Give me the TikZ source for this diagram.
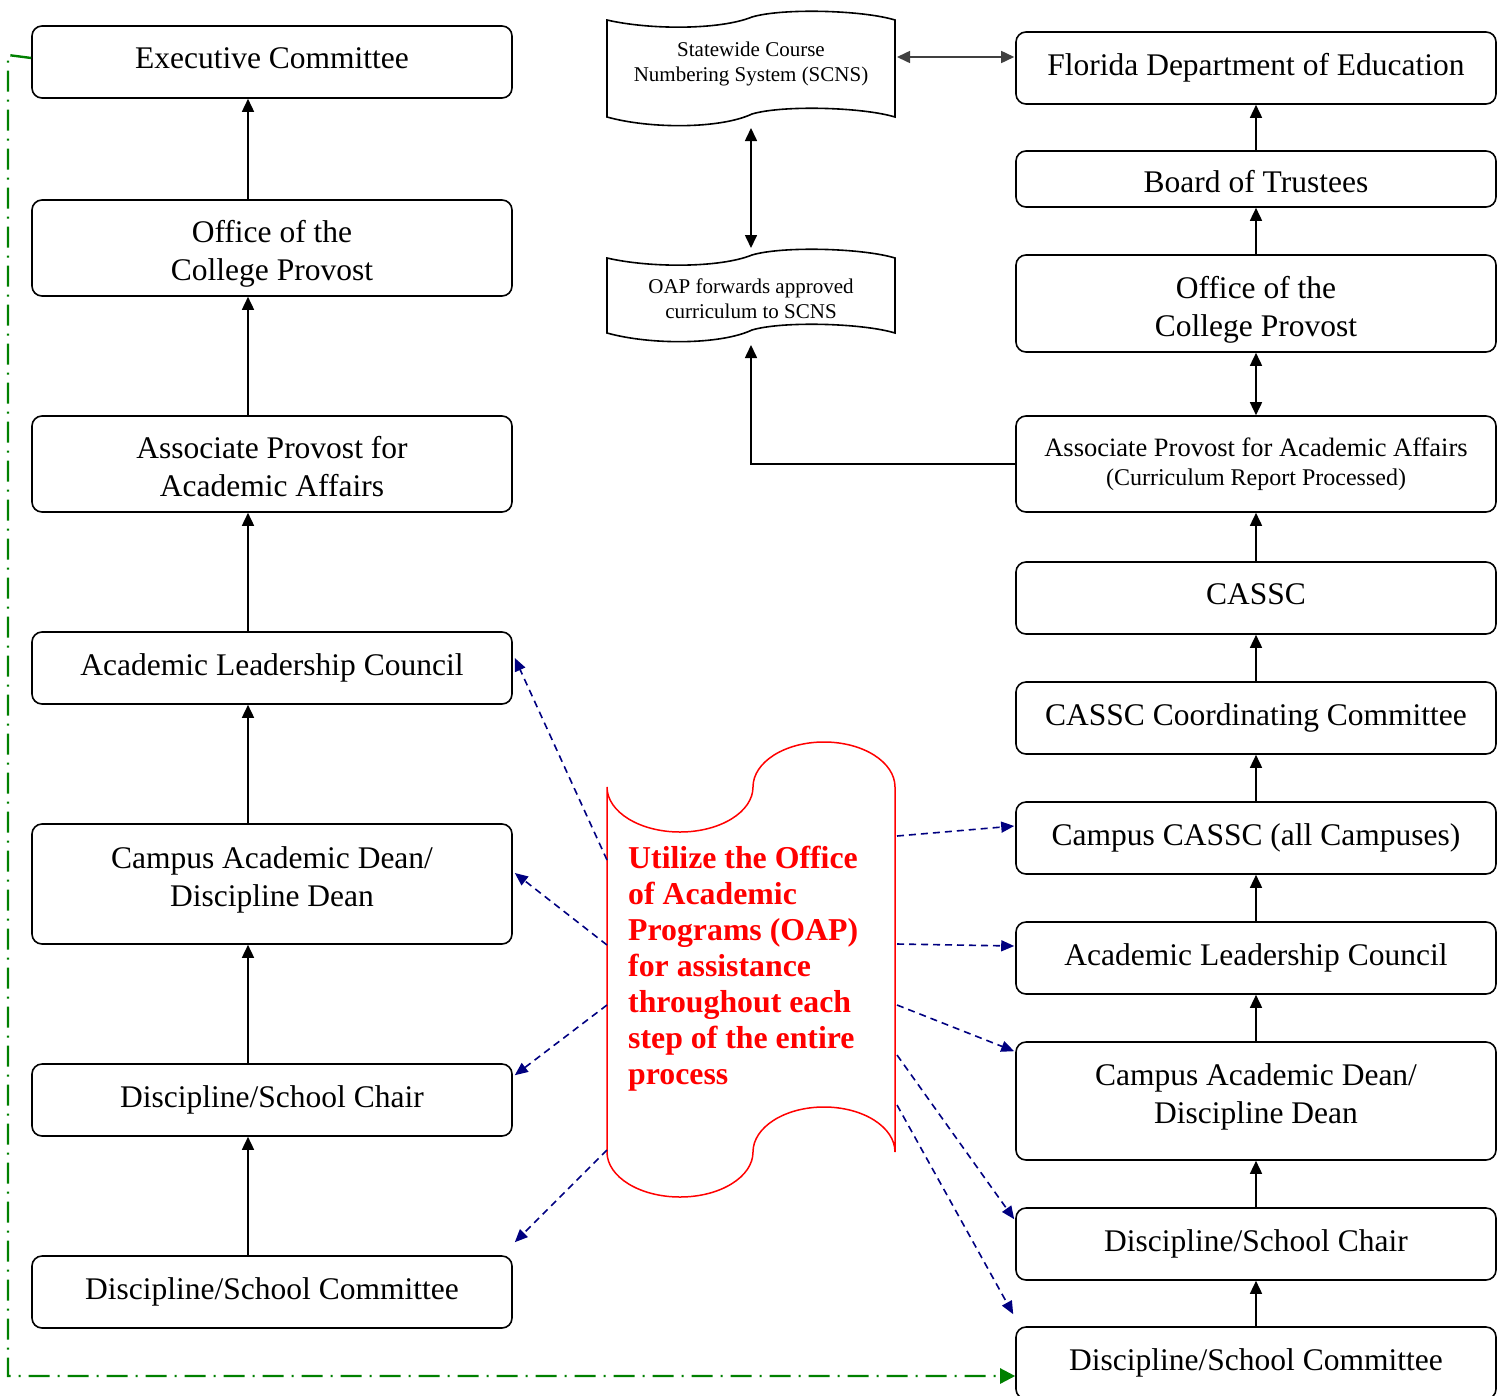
\documentclass[tikz,border=0pt]{standalone}
\usepackage{fontspec}
\setmainfont{Liberation Serif}
\usetikzlibrary{arrows.meta,calc}
\definecolor{gdark}{RGB}{0,128,0}
\definecolor{navyb}{RGB}{0,0,128}
\definecolor{dgray}{RGB}{64,64,64}
\newcommand{\upr}[1]{\rule{0pt}{#1}}
\newcommand{\dnr}[1]{\rule[-#1]{0pt}{0pt}}
\begin{document}
\begin{tikzpicture}[x=1pt,y=-1pt,
  box/.style={draw, line width=1.6pt, rounded corners=10pt, minimum width=480pt, inner sep=0pt, align=center, font=\fontsize{31.5}{38}\selectfont},
  arr/.style={line width=1.6pt, -{Triangle[length=13pt,width=12pt]}},
  darr/.style={line width=1.6pt, {Triangle[length=13pt,width=12pt]}-{Triangle[length=13pt,width=12pt]}},
  blu/.style={navyb, line width=1.6pt, dash pattern=on 7pt off 5pt, -{Triangle[length=13pt,width=11pt]}},
  grn/.style={gdark, line width=2.4pt, dash pattern=on 21pt off 8pt on 2pt off 8pt, -{Triangle[length=15pt,width=15pt]}},
  tapeline/.style={line width=1.6pt},
  tapetxt/.style={font=\fontsize{21}{25}\selectfont, align=center, inner sep=0pt},
  oaptxt/.style={red, font=\bfseries\fontsize{31.8}{36}\selectfont, align=left, inner sep=0pt, anchor=north west}
]
\useasboundingbox (0,0) rectangle (1507,1395);
\clip (0,0) rectangle (1507,1395);

% ---------- left column ----------
\node[box, minimum height=72pt] (exec) at (272,62) {Executive Committee\dnr{8pt}};
\node[box, minimum height=96pt] (lop) at (272,248) {\upr{33pt}Office of the\\College Provost};
\node[box, minimum height=96pt] (lap) at (272,464) {\upr{28pt}Associate Provost for\\Academic Affairs};
\node[box, minimum height=72pt] (lalc) at (272,668) {Academic Leadership Council};
\node[box, minimum height=120pt] (ldean) at (272,884) {Campus Academic Dean/\\Discipline Dean\dnr{15pt}};
\node[box, minimum height=72pt] (lchair) at (272,1100) {Discipline/School Chair};
\node[box, minimum height=72pt] (lcomm) at (272,1292) {Discipline/School Committee};

\coordinate (lx) at (248,0);
\draw[arr] (lop.north -| lx) -- (exec.south -| lx);
\draw[arr] (lap.north -| lx) -- (lop.south -| lx);
\draw[arr] (lalc.north -| lx) -- (lap.south -| lx);
\draw[arr] (ldean.north -| lx) -- (lalc.south -| lx);
\draw[arr] (lchair.north -| lx) -- (ldean.south -| lx);
\draw[arr] (lcomm.north -| lx) -- (lchair.south -| lx);

% ---------- right column ----------
\node[box, minimum height=72pt] (fdoe) at (1256,68) {Florida Department of Education};
\node[box, minimum height=56pt] (bot) at (1256,179) {\upr{28pt}Board of Trustees};
\node[box, minimum height=97pt] (rop) at (1256,303.5) {\upr{34pt}Office of the\\College Provost};
\node[box, minimum height=96pt] (rap) at (1256,464) {\fontsize{26.5}{29}\selectfont Associate Provost for Academic Affairs\\[-9pt]\fontsize{24}{29}\selectfont (Curriculum Report Processed)};
\node[box, minimum height=72pt] (cassc) at (1256,598) {CASSC\dnr{8pt}};
\node[box, minimum height=72pt] (cscc) at (1256,718) {CASSC Coordinating Committee};
\node[box, minimum height=72pt] (ccassc) at (1256,838) {Campus CASSC (all Campuses)};
\node[box, minimum height=72pt] (ralc) at (1256,958) {Academic Leadership Council};
\node[box, minimum height=118pt] (rdean) at (1256,1101) {Campus Academic Dean/\\Discipline Dean\dnr{15pt}};
\node[box, minimum height=72pt] (rchair) at (1256,1244) {Discipline/School Chair};
\node[box, minimum height=72pt] (rcomm) at (1256,1363) {Discipline/School Committee};

\draw[arr] (bot.north) -- (fdoe.south);
\draw[arr] (rop.north) -- (bot.south);
\draw[darr] (rap.north) -- (rop.south);
\draw[arr] (cassc.north) -- (rap.south);
\draw[arr] (cscc.north) -- (cassc.south);
\draw[arr] (ccassc.north) -- (cscc.south);
\draw[arr] (ralc.north) -- (ccassc.south);
\draw[arr] (rdean.north) -- (ralc.south);
\draw[arr] (rchair.north) -- (rdean.south);
\draw[arr] (rcomm.north) -- (rchair.south);

% ---------- tapes ----------
\draw[tapeline] (607,20) .. controls (650,30) and (720,30) .. (752,17)
  .. controls (782,8) and (862,10) .. (895,20) -- (895,117)
  .. controls (862,107) and (782,105) .. (752,114)
  .. controls (720,129) and (650,129) .. (607,117) -- cycle;
\node[tapetxt] (scns) at (751,64) {Statewide Course\\Numbering System (SCNS)};

\draw[tapeline] (607,258) .. controls (650,268) and (720,268) .. (752,255)
  .. controls (782,246) and (862,248) .. (895,258) -- (895,333)
  .. controls (862,323) and (782,321) .. (752,330)
  .. controls (720,345) and (650,345) .. (607,333) -- cycle;
\node[tapetxt] (oapf) at (751,299) {OAP forwards approved\\curriculum to SCNS};

\draw[darr, dgray] ($(scns.center)+(146,-7)$) -- ($(fdoe.west)+(-1,-11)$);
\draw[darr] ($(scns.center)+(0,64)$) -- ($(oapf.center)+(0,-51)$);
\draw[arr] (rap.west) -| ($(oapf.center)+(0,46)$);

% ---------- red OAP shape ----------
\draw[red, line width=1.5pt] (607,787) arc[start angle=180, end angle=0, x radius=73, y radius=45]
  arc[start angle=180, end angle=360, x radius=71, y radius=45] -- (895,1152)
  arc[start angle=0, end angle=-180, x radius=71, y radius=45]
  arc[start angle=0, end angle=180, x radius=73, y radius=45] -- cycle;
\node[oaptxt] (oap) at (628,846) {Utilize the Office\\of Academic\\Programs (OAP)\\for assistance\\throughout each\\step of the entire\\process};

\coordinate (oL1) at (607,860);
\coordinate (oL2) at (607,945);
\coordinate (oL3) at (607,1005);
\coordinate (oL4) at (607,1150);
\coordinate (oR1) at (897,836);
\coordinate (oR2) at (897,944);
\coordinate (oR3) at (897,1005);
\coordinate (oR4) at (897,1055);
\coordinate (oR5) at (897,1105);

\draw[blu] (oL1) -- ($(lalc.east)+(2,-10)$);
\draw[blu] (oL2) -- ($(ldean.east)+(2,-11)$);
\draw[blu] (oL3) -- ($(lchair.north east)+(2,12)$);
\draw[blu] (oL4) -- ($(lcomm.north east)+(2,-13)$);
\draw[blu] (oR1) -- ($(ccassc.west)+(-1,-12)$);
\draw[blu] (oR2) -- ($(ralc.west)+(-1,-12)$);
\draw[blu] (oR3) -- ($(rdean.north west)+(-1,10)$);
\draw[blu] (oR4) -- ($(rchair.north west)+(-1,12)$);
\draw[blu] (oR5) -- ($(rcomm.north west)+(-2,-12)$);

% ---------- green feedback line ----------
\coordinate (g1) at (8,55);
\coordinate (g2) at (8,1376);
\draw[grn] ($(exec.west)+(0,-4)$) -- (g1) -- (g2) -- (g2 -| rcomm.west);
\end{tikzpicture}
\end{document}
